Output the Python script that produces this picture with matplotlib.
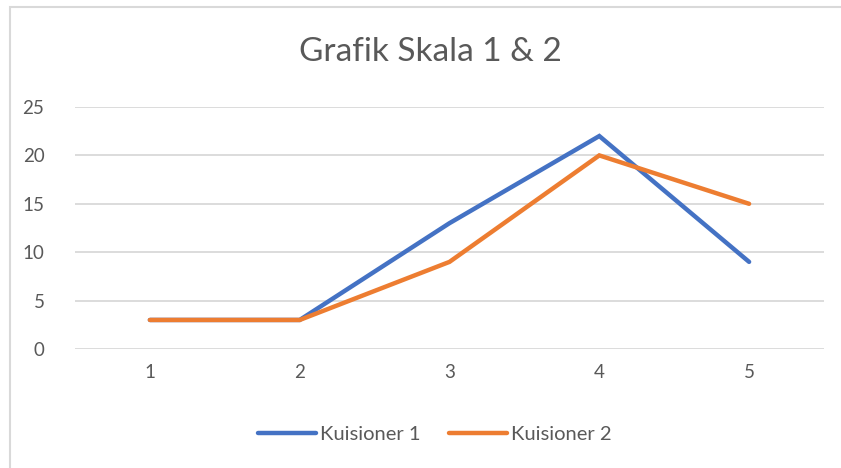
import matplotlib.pyplot as plt
from matplotlib.patches import Rectangle

# data
categories = ["1", "2", "3", "4", "5"]
kuisioner_1 = [3, 3, 13, 22, 9]
kuisioner_2 = [3, 3, 9, 20, 15]
y_ticks = [0, 5, 10, 15, 20, 25]

plt.rcParams['font.family'] = ['Lato', 'DejaVu Sans']

fig = plt.figure(figsize=(8.41, 4.68), dpi=100)
ax = fig.add_axes([75 / 841, 1 - 349 / 468, (824 - 75) / 841, (349 - 107) / 468])

# chart border like excel (right and bottom cut off in the reference)
fig.patches.append(Rectangle((10 / 841, -0.1), 1.2, 1.1 - 7 / 468, transform=fig.transFigure,
                             fill=False, edgecolor='#d9d9d9', lw=1.5))

x = list(range(len(categories)))
ax.plot(x, kuisioner_1, color='#4472C4', lw=3.2, solid_capstyle='round',
        solid_joinstyle='miter', label='Kuisioner 1', zorder=3)
ax.plot(x, kuisioner_2, color='#ED7D31', lw=3.2, solid_capstyle='round',
        solid_joinstyle='miter', label='Kuisioner 2', zorder=3)

ax.set_xlim(-0.5, len(categories) - 0.5)
ax.set_ylim(0, 25)
ax.set_yticks(y_ticks)
ax.set_xticks(x)
ax.set_xticklabels(categories)
ax.grid(axis='y', color='#d9d9d9', lw=1.3)
ax.set_axisbelow(True)
for s in ax.spines.values():
    s.set_visible(False)
ax.tick_params(length=0, labelsize=13.5, colors='#595959', pad=11)
ax.tick_params(axis='y', pad=22)

fig.text(430 / 841, 1 - 52 / 468, 'Grafik Skala 1 & 2', ha='center', va='center',
         fontsize=24, color='#595959')

leg = fig.legend(loc='center', bbox_to_anchor=(435 / 841, 1 - 434 / 468), ncol=2,
                 frameon=False, fontsize=14.5, handlelength=2.9, handletextpad=0.2,
                 columnspacing=1.4, labelcolor='#595959')

fig.savefig('out.png', dpi=100)
